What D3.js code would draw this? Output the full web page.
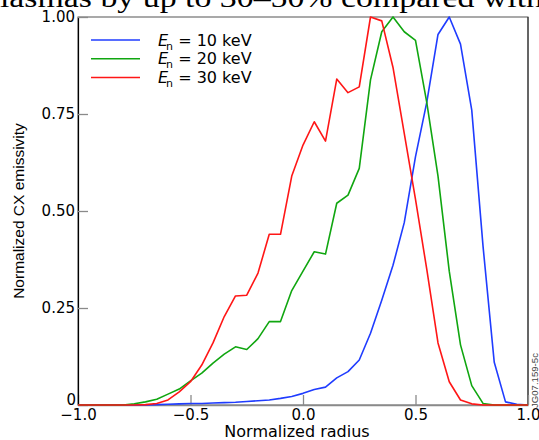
<!DOCTYPE html>
<html>
<head>
<meta charset="utf-8">
<script src="https://cdn.jsdelivr.net/npm/d3@7"></script>
<style>
  body { margin: 0; background: #fff; }
  svg { display: block; }
</style>
</head>
<body>
<div id="chart"></div>
<script>
// normalized radius grid the profiles were sampled on
const radius = [-1.00, -0.95, -0.90, -0.85, -0.80, -0.75, -0.70, -0.65, -0.60, -0.55,
                -0.50, -0.45, -0.40, -0.35, -0.30, -0.25, -0.20, -0.15, -0.10, -0.05,
                 0.00,  0.05,  0.10,  0.15,  0.20,  0.25,  0.30,  0.35,  0.40,  0.45,
                 0.50,  0.55,  0.60,  0.65,  0.70,  0.75,  0.80,  0.85,  0.90,  0.95, 1.00];

// normalized CX emissivity
const e10 = [0, 0, 0, 0, 0, 0, 0, 0.001, 0.002, 0.003,
             0.004, 0.004, 0.005, 0.006, 0.007, 0.009, 0.011, 0.013, 0.017, 0.022,
             0.030, 0.040, 0.046, 0.070, 0.086, 0.116, 0.185, 0.27, 0.36, 0.47,
             0.64, 0.78, 0.955, 1.0, 0.93, 0.76, 0.41, 0.11, 0.008, 0.002, 0];
const e20 = [0, 0, 0, 0, 0, 0.003, 0.008, 0.015, 0.028, 0.041,
             0.062, 0.082, 0.108, 0.131, 0.150, 0.143, 0.171, 0.215, 0.215, 0.295,
             0.345, 0.395, 0.389, 0.52, 0.541, 0.61, 0.838, 0.962, 1.0, 0.962,
             0.94, 0.78, 0.59, 0.345, 0.155, 0.05, 0.004, 0, 0, 0, 0];
const e30 = [0, 0, 0, 0, 0, 0, 0.001, 0.004, 0.013, 0.034,
             0.060, 0.103, 0.160, 0.228, 0.281, 0.283, 0.340, 0.44, 0.44, 0.59,
             0.67, 0.73, 0.68, 0.84, 0.805, 0.82, 1.0, 0.99, 0.87, 0.70,
             0.53, 0.35, 0.16, 0.06, 0.013, 0.003, 0, 0, 0, 0, 0];

const seriesNames = ['10 keV', '20 keV', '30 keV'];
const seriesColors = ['#1f3cff', '#10a610', '#ff1616'];

const xTicks = [-1.0, -0.5, 0.0, 0.5, 1.0];
const xTickLabels = ['\u22121.0', '\u22120.5', '0.0', '0.5', '1.0'];
const yTicks = [0, 0.25, 0.5, 0.75, 1.0];
const yTickLabels = ['0', '0.25', '0.50', '0.75', '1.00'];

const pageText = 'plasmas by up to 30\u201350% compared with';

const series = [e10, e20, e30].map((vals, i) => ({
  name: seriesNames[i],
  color: seriesColors[i],
  values: radius.map((r, j) => ({ r: r, v: vals[j] }))
}));

const W = 539, H = 440;
const margin = {top: 17, right: 11, bottom: 35, left: 78},
  width = W - margin.left - margin.right,
  height = H - margin.top - margin.bottom;

const root = d3.select('#chart').append('svg')
  .attr('width', W)
  .attr('height', H);

// clipped line of body text from the page above the figure
root.append('text')
  .attr('x', -17)
  .attr('y', 7)
  .attr('textLength', 560)
  .attr('lengthAdjust', 'spacingAndGlyphs')
  .style('font-family', '"Liberation Serif", "Times New Roman", serif')
  .style('font-size', '27px')
  .attr('fill', '#000')
  .text(pageText);

const svg = root.append('g')
  .attr('transform', 'translate(' + margin.left + ',' + margin.top + ')');

const xScale = d3.scaleLinear().domain([-1, 1]).range([0, width]);
const yScale = d3.scaleLinear().domain([0, 1]).range([height, 0]);

// frame
svg.append('rect')
  .attr('width', width)
  .attr('height', height)
  .attr('fill', '#fff')
  .attr('stroke', '#555')
  .attr('stroke-width', 1);
svg.append('line')
  .attr('x1', width).attr('x2', width)
  .attr('y1', 0).attr('y2', height)
  .attr('stroke', '#222');

const xAxis = d3.axisBottom(xScale)
  .tickValues(xTicks)
  .tickFormat((d, i) => xTickLabels[i])
  .tickSizeInner(-10)
  .tickSizeOuter(0)
  .tickPadding(4);

const yAxis = d3.axisLeft(yScale)
  .tickValues(yTicks)
  .tickFormat((d, i) => yTickLabels[i])
  .tickSizeInner(-10)
  .tickSizeOuter(0)
  .tickPadding(3);

const gx = svg.append('g')
  .attr('class', 'x-axis')
  .attr('transform', `translate(0, ${height})`)
  .call(xAxis);

const gy = svg.append('g')
  .attr('class', 'y-axis')
  .call(yAxis);

gx.select('.domain').attr('stroke', '#8a8a8a').attr('stroke-width', 1.5);
gy.select('.domain').attr('stroke', '#000').attr('stroke-width', 1.2);
svg.selectAll('.tick line').attr('stroke', '#8a8a8a').attr('stroke-width', 1.3);
svg.selectAll('.tick text')
  .attr('fill', '#000')
  .style('font-family', '"DejaVu Sans", sans-serif')
  .style('font-size', '15px');
// the zero label sits up on the baseline
gy.selectAll('.tick text').filter(d => d === 0)
  .attr('dy', '-0.05em')
  .attr('x', -2);

// x title
svg.append('text')
  .attr('x', width / 2 - 6)
  .attr('y', height + 32)
  .attr('text-anchor', 'middle')
  .style('font-family', '"DejaVu Sans", sans-serif')
  .style('font-size', '16px')
  .text('Normalized radius');

// y title
svg.append('text')
  .attr('transform', 'translate(' + (24 - margin.left) + ',' + (211 - margin.top) + ') rotate(-90)')
  .attr('text-anchor', 'middle')
  .style('font-family', '"Liberation Sans", Arial, sans-serif')
  .style('font-size', '15.5px')
  .text('Normalized CX emissivity');

// profiles
const line = d3.line()
  .x(d => xScale(d.r))
  .y(d => yScale(d.v));

svg.selectAll('.profile')
  .data(series)
  .join('path')
  .attr('class', 'profile')
  .attr('d', d => line(d.values))
  .attr('fill', 'none')
  .attr('stroke', d => d.color)
  .attr('stroke-width', 1.6)
  .attr('stroke-linejoin', 'round');

// legend
const legend = svg.selectAll('.legend')
  .data(series)
  .join('g')
  .attr('class', 'legend')
  .attr('transform', (d, i) => 'translate(13,' + (23 + i * 18.8) + ')');

legend.append('line')
  .attr('x1', 0).attr('x2', 49)
  .attr('stroke', d => d.color)
  .attr('stroke-width', 1.5);

const lt = legend.append('text')
  .attr('x', 67)
  .attr('dy', '0.35em')
  .style('font-family', '"DejaVu Sans", sans-serif')
  .style('font-size', '16px');
lt.append('tspan')
  .style('font-style', 'italic')
  .style('font-weight', '300')
  .text('E');
lt.append('tspan')
  .attr('dx', -2)
  .attr('dy', 4)
  .style('font-size', '11px')
  .text('n');
lt.append('tspan')
  .attr('dy', -4)
  .text(d => ' = ' + d.name);

// figure id in the margin
root.append('text')
  .attr('transform', 'translate(538,408) rotate(-90)')
  .style('font-family', '"Liberation Sans", Arial, sans-serif')
  .style('font-size', '9.6px')
  .attr('fill', '#444')
  .text('JG07.159-5c');
</script>
</body>
</html>
